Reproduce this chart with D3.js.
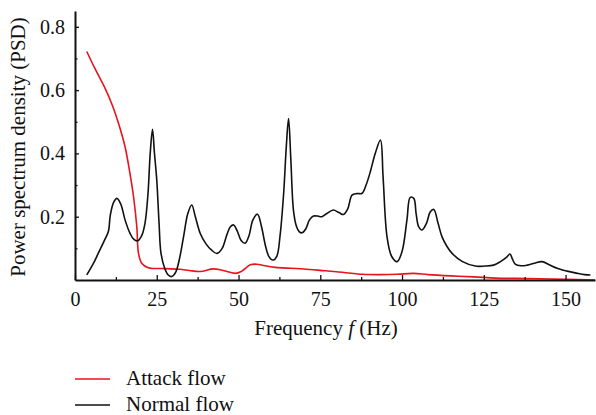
<!DOCTYPE html>
<html lang="en">
<head>
    <title>Power spectrum density</title>
    <script src="https://d3js.org/d3.v7.min.js"></script>
    <style>
        body { margin: 0; background: #fff; }
        svg { display: block; }
        svg text { font-family: "Liberation Serif", "DejaVu Serif", serif !important; fill: #111; }
    </style>
</head>
<body>
    <div id="chart"></div>

    <script>
        var width = 596;
        var height = 415;
        var margins = { left: 75, top: 11, right: 1, bottom: 135 };

        // frequency (Hz) / PSD pairs
        var attackFreq = [3.6, 6, 9, 11.5, 13.3, 15.3, 16.8, 17.9, 18.9, 19.4, 20.4, 22.4, 27.5, 32, 35,
            38.3, 42.3, 45, 49, 51, 53.6, 55.6, 58, 61.2, 66, 70, 76.5, 80, 88, 93, 98.5, 103.5, 108,
            115, 122, 128.6, 135, 142, 150, 159];
        var attackPsd = [0.722, 0.67, 0.61, 0.55, 0.495, 0.421, 0.337, 0.263, 0.168, 0.085, 0.053, 0.039,
            0.036, 0.034, 0.03, 0.027, 0.035, 0.031, 0.021, 0.028, 0.048, 0.05, 0.045, 0.04, 0.037, 0.035,
            0.029, 0.026, 0.018, 0.017, 0.018, 0.021, 0.017, 0.013, 0.01, 0.006, 0.005, 0.004, 0.002, 0.0];

        var normalFreq = [3.6, 5.5, 7.1, 9, 10.2, 10.8, 11.8, 12.8, 14, 15.3, 16.8, 18, 19.2, 20.4, 21.4,
            22.3, 23, 23.7, 24.3, 25, 25.7, 26.3, 27.5, 28.6, 29.6, 30.8, 32, 33.2, 34.5, 35.7, 36.8, 38.3,
            40, 41.7, 43.4, 45, 46.5, 47.5, 48.5, 49.6, 50.8, 52, 53.2, 54.4, 55.8, 57, 58.2, 59.3, 60.5,
            61.7, 62.7, 63.8, 64.6, 65.3, 66, 66.8, 67.7, 68.6, 69.4, 70.6, 71.7, 72.9, 74.2, 75.5, 77, 79,
            80.7, 82.1, 83.4, 84.7, 86.2, 87.8, 89, 90.3, 91.8, 93.4, 94.2, 95.4, 96.8, 98.5, 100, 101.5,
            102.5, 103.6, 104.3, 105.1, 106.1, 107.5, 108.6, 109.7, 111, 112.2, 113.8, 115.3, 118.5, 122.4,
            125.3, 128, 130.1, 132, 133, 133.8, 134.6, 136.4, 138.3, 140.5, 142.8, 145, 147.4, 150.5, 153.6,
            155.8, 157.6];
        var normalPsd = [0.016, 0.05, 0.084, 0.125, 0.153, 0.205, 0.245, 0.258, 0.24, 0.19, 0.148, 0.128,
            0.124, 0.14, 0.179, 0.27, 0.4, 0.476, 0.4, 0.316, 0.18, 0.084, 0.035, 0.015, 0.011, 0.025, 0.07,
            0.137, 0.21, 0.237, 0.2, 0.147, 0.115, 0.095, 0.084, 0.1, 0.145, 0.168, 0.174, 0.155, 0.125, 0.116,
            0.14, 0.19, 0.208, 0.17, 0.11, 0.074, 0.063, 0.075, 0.14, 0.274, 0.42, 0.51, 0.38, 0.22, 0.17,
            0.152, 0.149, 0.162, 0.19, 0.202, 0.202, 0.2, 0.21, 0.221, 0.213, 0.207, 0.225, 0.268, 0.273,
            0.274, 0.3, 0.342, 0.4, 0.442, 0.326, 0.137, 0.075, 0.058, 0.09, 0.19, 0.261, 0.258, 0.21, 0.168,
            0.158, 0.18, 0.215, 0.223, 0.18, 0.137, 0.105, 0.084, 0.058, 0.044, 0.044, 0.047, 0.058, 0.072,
            0.082, 0.065, 0.05, 0.045, 0.047, 0.053, 0.058, 0.048, 0.037, 0.028, 0.021, 0.017, 0.016];

        var xTicks = [0, 25, 50, 75, 100, 125, 150];
        var xMinor = [12.5, 37.5, 62.5, 87.5, 112.5, 137.5];
        var yTicks = [0.2, 0.4, 0.6, 0.8];
        var yMinor = [0.1, 0.3, 0.5, 0.7];

        var series = [
            { name: "Attack flow", color: "#e8141c", freq: attackFreq, psd: attackPsd },
            { name: "Normal flow", color: "#111", freq: normalFreq, psd: normalPsd }
        ];

        var serif = "'Liberation Serif', 'DejaVu Serif', serif";
        var plotBottom = height - margins.bottom;

        var xscale = d3.scaleLinear()
            .domain([0, 159])
            .range([margins.left, width - margins.right]);
        var yscale = d3.scaleLinear()
            .domain([0, 0.85])
            .range([plotBottom, margins.top]);

        var svg = d3.select("#chart").append("svg")
            .attr("width", width)
            .attr("height", height)
            .style("font-family", serif);

        // curves first, axes drawn over them
        var line = d3.line()
            .x(function (d) { return xscale(d[0]); })
            .y(function (d) { return yscale(d[1]); })
            .curve(d3.curveCatmullRom.alpha(0.5));

        svg.append("defs").append("clipPath").attr("id", "plot")
            .append("rect")
            .attr("x", margins.left).attr("y", 0)
            .attr("width", width - margins.left).attr("height", plotBottom);

        series.forEach(function (s) {
            svg.append("path")
                .datum(d3.zip(s.freq, s.psd))
                .attr("clip-path", "url(#plot)")
                .attr("fill", "none")
                .attr("stroke", s.color)
                .attr("stroke-width", 1.6)
                .attr("stroke-linejoin", "round")
                .attr("d", line);
        });

        // x axis
        var xaxis = d3.axisBottom(xscale)
            .tickValues(xTicks)
            .tickSizeInner(-5)
            .tickSizeOuter(0)
            .tickPadding(12);
        var gx = svg.append("g")
            .attr("transform", "translate(0," + plotBottom + ")")
            .call(xaxis);
        gx.append("g").call(d3.axisBottom(xscale).tickValues(xMinor).tickSize(-3).tickFormat(""))
            .select(".domain").remove();

        // y axis
        var yaxis = d3.axisLeft(yscale)
            .tickValues(yTicks)
            .tickFormat(d3.format(".1f"))
            .tickSizeInner(-4)
            .tickSizeOuter(0)
            .tickPadding(10);
        var gy = svg.append("g")
            .attr("transform", "translate(" + margins.left + ",0)")
            .call(yaxis);
        gy.append("g").call(d3.axisLeft(yscale).tickValues(yMinor).tickSize(-2.5).tickFormat(""))
            .select(".domain").remove();

        svg.selectAll("g").attr("font-family", null);
        svg.selectAll(".domain").attr("stroke", "#111").attr("stroke-width", 2);
        svg.selectAll(".tick line").attr("stroke", "#111").attr("stroke-width", 1.3);
        svg.selectAll(".tick text")
            .style("font-family", serif)
            .style("font-size", "20px")
            .attr("fill", "#111");
        gx.selectAll(".tick text").attr("dy", "0.71em");

        // axis titles
        var xt = svg.append("text")
            .attr("x", 326)
            .attr("y", 335)
            .attr("text-anchor", "middle")
            .style("font-size", "21px");
        xt.append("tspan").text("Frequency ");
        xt.append("tspan").attr("font-style", "italic").text("f");
        xt.append("tspan").text(" (Hz)");

        svg.append("text")
            .attr("transform", "translate(25,147) rotate(-90)")
            .attr("text-anchor", "middle")
            .style("font-size", "21px")
            .text("Power spectrum density (PSD)");

        // legend
        var legend = svg.append("g")
            .selectAll("g")
            .data(series)
            .enter()
            .append("g")
            .attr("transform", function (d, i) { return "translate(75," + (379 + i * 26) + ")"; });
        legend.append("line")
            .attr("x1", 0).attr("x2", 35)
            .attr("stroke", function (d) { return d.color; })
            .attr("stroke-width", 1.6);
        legend.append("text")
            .attr("x", 51)
            .attr("y", 6)
            .style("font-size", "21px")
            .text(function (d) { return d.name; });
    </script>
</body>
</html>
